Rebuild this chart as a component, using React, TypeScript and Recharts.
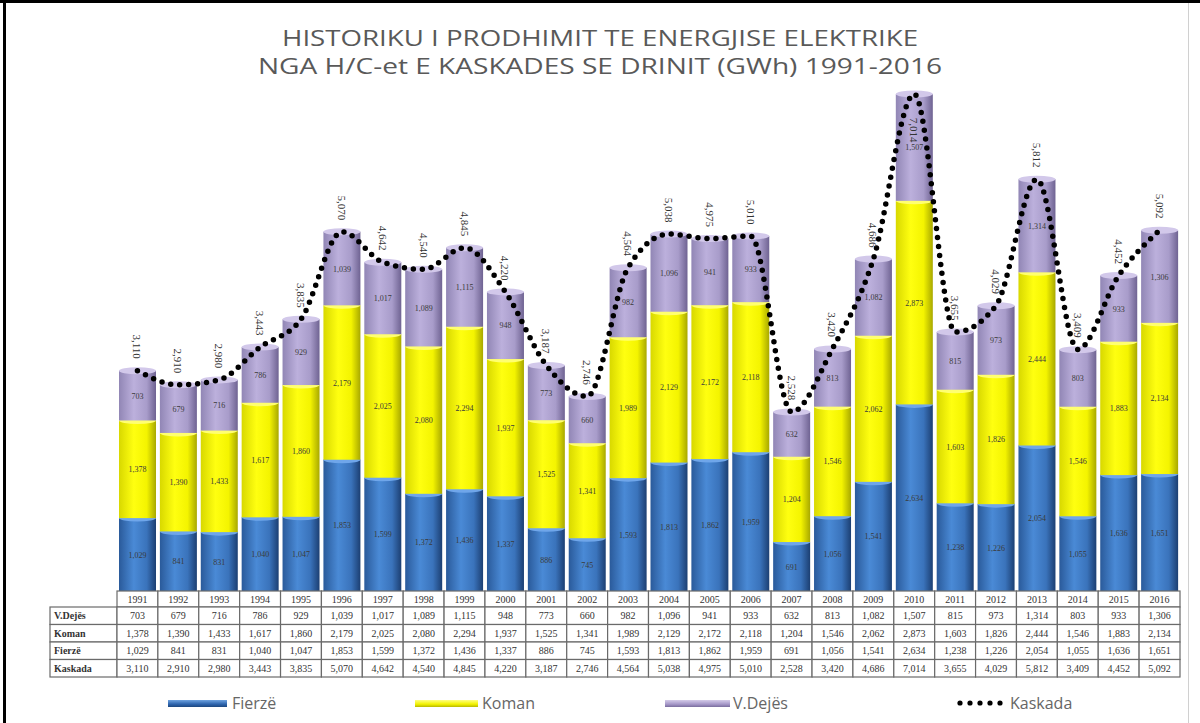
import React from 'react';
import { ComposedChart, Bar, Line, XAxis, YAxis, LabelList } from 'recharts';

const years = ['1991','1992','1993','1994','1995','1996','1997','1998','1999','2000','2001','2002','2003','2004','2005','2006','2007','2008','2009','2010','2011','2012','2013','2014','2015','2016'];
const fierze = [1029,841,831,1040,1047,1853,1599,1372,1436,1337,886,745,1593,1813,1862,1959,691,1056,1541,2634,1238,1226,2054,1055,1636,1651];
const koman = [1378,1390,1433,1617,1860,2179,2025,2080,2294,1937,1525,1341,1989,2129,2172,2118,1204,1546,2062,2873,1603,1826,2444,1546,1883,2134];
const vdejes = [703,679,716,786,929,1039,1017,1089,1115,948,773,660,982,1096,941,933,632,813,1082,1507,815,973,1314,803,933,1306];
const kaskada = [3110,2910,2980,3443,3835,5070,4642,4540,4845,4220,3187,2746,4564,5038,4975,5010,2528,3420,4686,7014,3655,4029,5812,3409,4452,5092];

const rowLabels = ['V.Dejës', 'Koman', 'Fierzë', 'Kaskada'];
const titleLines = ['HISTORIKU I PRODHIMIT TE ENERGJISE ELEKTRIKE', 'NGA H/C-et E KASKADES SE DRINIT (GWh) 1991-2016'];

const data = years.map((y, i) => ({ year: y, fierze: fierze[i], koman: koman[i], vdejes: vdejes[i], kaskada: kaskada[i] }));

const W = 1200;
const H = 723;
const M = { top: 88, right: 20, left: 117, bottom: 46 };
const colW = (W - M.left - M.right) / years.length;
const fmt = (v: number) => v.toLocaleString('en-US');

const CELL_STROKE = '#6a6a6a';
const TXT = '#333';
const SERIF = '"Liberation Serif", "DejaVu Serif", serif';

const makeTick = (vals: number[] | null, label: string | null, h: number) => (props: any) => {
  const { x, y, index, payload } = props;
  const txt = vals ? fmt(vals[index]) : payload.value;
  return (
    <g>
      {index === 0 && label && (
        <g>
          <rect x={50} y={y} width={M.left - 50} height={h} fill="#fff" stroke={CELL_STROKE} strokeWidth={1.2} />
          <text x={54} y={y + h / 2 + 3.5} fontSize={10} fontFamily={SERIF} fill={TXT} fontWeight="bold">{label}</text>
        </g>
      )}
      <rect x={x - colW / 2} y={y} width={colW} height={h} fill="#fff" stroke={CELL_STROKE} strokeWidth={1.2} />
      <text x={x} y={y + h / 2 + 3.5} textAnchor="middle" fontSize={10} fontFamily={SERIF} fill={TXT}>{txt}</text>
    </g>
  );
};

const makeCyl = (id: string, cap: string) => (props: any) => {
  const { x, y, width, height } = props;
  if (!height || height <= 0) return null;
  return (
    <g>
      <rect x={x} y={y} width={width} height={height} fill={`url(#${id})`} />
      <ellipse cx={x + width / 2} cy={y} rx={width / 2} ry={3.5} fill={cap} />
    </g>
  );
};

const segLabel = (props: any) => {
  const { x, y, width, height, value } = props;
  return (
    <text x={x + width / 2} y={y + height / 2 + 3} textAnchor="middle" fontSize={8} fontFamily={SERIF} fill="#3a3a3a">{fmt(value)}</text>
  );
};

const topLabel = (props: any) => {
  const { x, y, value } = props;
  const cy = y < 120 ? y + 36 : y - 24;
  return (
    <text x={x} y={cy} transform={`rotate(90, ${x}, ${cy})`} textAnchor="middle" dominantBaseline="central" fontSize={11} fontFamily={SERIF} fill="#333">{fmt(value)}</text>
  );
};

const legendItems = [
  { name: 'Fierzë', sx: 168, sw: 59, tx: 232, grad: 'linear-gradient(#6fa3e0, #2d64ad 60%, #1d477f)' },
  { name: 'Koman', sx: 415, sw: 63, tx: 482, grad: 'linear-gradient(#ffff80, #f2f200 60%, #b8b800)' },
  { name: 'V.Dejës', sx: 665, sw: 65, tx: 733, grad: 'linear-gradient(#d4cbe8, #a597c8 60%, #7a6d9e)' },
];

export default function App() {
  return (
    <div style={{ position: 'absolute', left: 0, top: 0, width: W, height: H, background: '#fff', overflow: 'hidden' }}>
      <div style={{ position: 'absolute', left: 0, top: 0, width: W, height: 3, background: '#000' }} />
      <div style={{ position: 'absolute', left: 3, top: 0, width: 3, height: H, background: '#000' }} />
      <div style={{ position: 'absolute', left: 1188, top: 3, width: 1, height: H, background: '#d0d0d0' }} />
      <svg style={{ position: 'absolute', left: 0, top: 0 }} width={W} height={90}>
        <text x={600} y={46} textAnchor="middle" fontSize={22} fontFamily='"Open Sans", sans-serif' fill="#595959" textLength={636} lengthAdjust="spacingAndGlyphs">{titleLines[0]}</text>
        <text x={600} y={74} textAnchor="middle" fontSize={22} fontFamily='"Open Sans", sans-serif' fill="#595959" textLength={684} lengthAdjust="spacingAndGlyphs">{titleLines[1]}</text>
      </svg>
      <div style={{ position: 'absolute', left: 0, top: 0 }}>
        <ComposedChart width={W} height={H} data={data} margin={M} barSize={37}>
          <defs>
            <linearGradient id="gF" x1="0" y1="0" x2="1" y2="0">
              <stop offset="0" stopColor="#2a5a9a" />
              <stop offset="0.4" stopColor="#4a8ad6" />
              <stop offset="0.75" stopColor="#3a73bb" />
              <stop offset="1" stopColor="#1c3f72" />
            </linearGradient>
            <linearGradient id="gK" x1="0" y1="0" x2="1" y2="0">
              <stop offset="0" stopColor="#d8d800" />
              <stop offset="0.4" stopColor="#ffff10" />
              <stop offset="0.75" stopColor="#f4f400" />
              <stop offset="1" stopColor="#a8a800" />
            </linearGradient>
            <linearGradient id="gV" x1="0" y1="0" x2="1" y2="0">
              <stop offset="0" stopColor="#9186b5" />
              <stop offset="0.4" stopColor="#bcb0dc" />
              <stop offset="0.75" stopColor="#a89cca" />
              <stop offset="1" stopColor="#6f6392" />
            </linearGradient>
          </defs>
          <YAxis hide domain={[0, 7100]} />
          <XAxis xAxisId="hdr" dataKey="year" height={16} tickSize={0} tickMargin={0} axisLine={false} tickLine={false} interval={0} tick={makeTick(null, null, 16)} />
          <XAxis xAxisId="r1" dataKey="year" height={17.5} tickSize={0} tickMargin={0} axisLine={false} tickLine={false} interval={0} tick={makeTick(vdejes, rowLabels[0], 17.5)} />
          <XAxis xAxisId="r2" dataKey="year" height={17.5} tickSize={0} tickMargin={0} axisLine={false} tickLine={false} interval={0} tick={makeTick(koman, rowLabels[1], 17.5)} />
          <XAxis xAxisId="r3" dataKey="year" height={17.5} tickSize={0} tickMargin={0} axisLine={false} tickLine={false} interval={0} tick={makeTick(fierze, rowLabels[2], 17.5)} />
          <XAxis xAxisId="r4" dataKey="year" height={17.5} tickSize={0} tickMargin={0} axisLine={false} tickLine={false} interval={0} tick={makeTick(kaskada, rowLabels[3], 17.5)} />
          <Bar xAxisId="hdr" dataKey="fierze" stackId="s" isAnimationActive={false} shape={makeCyl('gF', '#6fa6ea')}>
            <LabelList dataKey="fierze" content={segLabel} />
          </Bar>
          <Bar xAxisId="hdr" dataKey="koman" stackId="s" isAnimationActive={false} shape={makeCyl('gK', '#ffff70')}>
            <LabelList dataKey="koman" content={segLabel} />
          </Bar>
          <Bar xAxisId="hdr" dataKey="vdejes" stackId="s" isAnimationActive={false} shape={makeCyl('gV', '#d2c8ea')}>
            <LabelList dataKey="vdejes" content={segLabel} />
          </Bar>
          <Line xAxisId="hdr" dataKey="kaskada" type="monotone" stroke="#000" strokeWidth={5.5} strokeDasharray="0 9" strokeLinecap="round" dot={false} isAnimationActive={false}>
            <LabelList dataKey="kaskada" content={topLabel} />
          </Line>
        </ComposedChart>
      </div>
      {legendItems.map((it) => (
        <React.Fragment key={it.name}>
          <div style={{ position: 'absolute', left: it.sx, top: 700, width: it.sw, height: 7, background: it.grad }} />
          <div style={{ position: 'absolute', left: it.tx, top: 692, fontSize: 16, fontFamily: '"Open Sans", sans-serif', color: '#666', lineHeight: '22px' }}>{it.name}</div>
        </React.Fragment>
      ))}
      <svg style={{ position: 'absolute', left: 950, top: 695 }} width={60} height={16}>
        {[0, 1, 2, 3, 4].map((k) => (
          <circle key={k} cx={10 + k * 10} cy={8} r={2.6} fill="#000" />
        ))}
      </svg>
      <div style={{ position: 'absolute', left: 1010, top: 692, fontSize: 16, fontFamily: '"Open Sans", sans-serif', color: '#666', lineHeight: '22px' }}>Kaskada</div>
    </div>
  );
}
